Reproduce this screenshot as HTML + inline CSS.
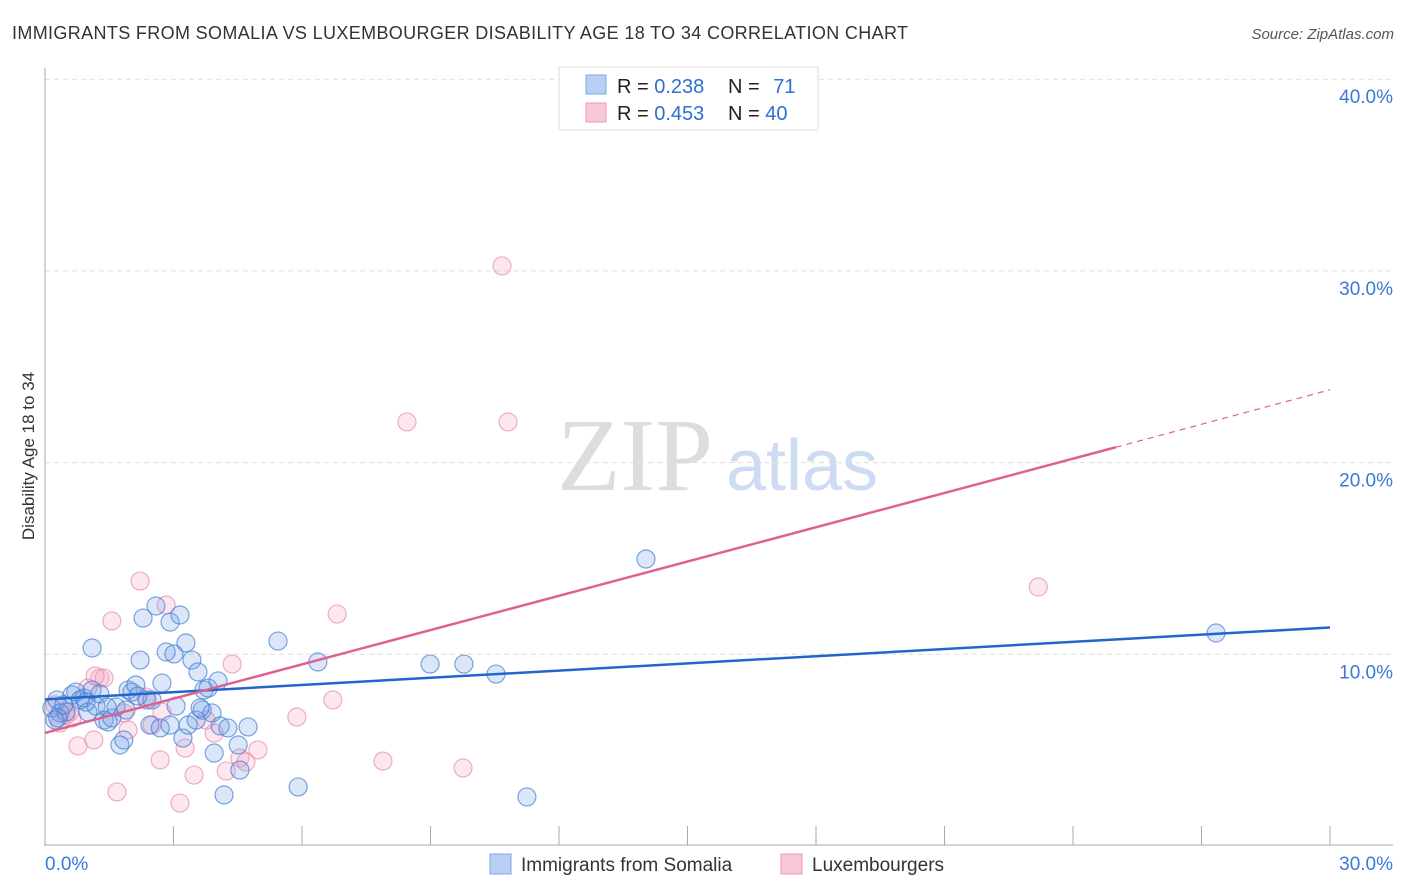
<!DOCTYPE html>
<html><head><meta charset="utf-8">
<style>
body{margin:0;background:#fff;font-family:"Liberation Sans",sans-serif;}
svg{display:block}
</style></head>
<body>
<svg id="chart" width="1406" height="892" xmlns="http://www.w3.org/2000/svg">
<text x="12" y="39" font-size="18" fill="#333" textLength="896">IMMIGRANTS FROM SOMALIA VS LUXEMBOURGER DISABILITY AGE 18 TO 34 CORRELATION CHART</text>
<text x="1394" y="39" font-size="15" fill="#555" font-style="italic" text-anchor="end">Source: ZipAtlas.com</text>
<text x="0" y="0" transform="translate(34,456) rotate(-90)" font-size="17" fill="#333" text-anchor="middle">Disability Age 18 to 34</text>
<g>
<text x="635" y="490" font-size="104" font-family="Liberation Serif,serif" fill="#ddd" text-anchor="middle">ZIP</text>
<text x="802" y="490" font-size="72" fill="#cddcf2" text-anchor="middle">atlas</text>
</g>
<g id="grid"></g>
<g id="axes"></g>
<g id="pts"></g>
<g id="lines"></g>
<g>
<rect x="559" y="67" width="259" height="63" fill="#fff" stroke="#ddd"/>
<rect x="586" y="75" width="20" height="19" fill="#b8d0f4" stroke="#7fa8e6"/>
<rect x="586" y="103" width="20" height="19" fill="#f9c8d6" stroke="#eb9ab4"/>
<text x="617" y="93" font-size="20" fill="#222">R = <tspan fill="#2e6fd3">0.238</tspan></text>
<text x="728" y="93" font-size="20" fill="#222">N = <tspan fill="#2e6fd3" dx="8">71</tspan></text>
<text x="617" y="120" font-size="20" fill="#222">R = <tspan fill="#2e6fd3">0.453</tspan></text>
<text x="728" y="120" font-size="20" fill="#222">N = <tspan fill="#2e6fd3">40</tspan></text>
</g>
<g>
<rect x="490" y="854" width="21" height="20" fill="#b8d0f4" stroke="#7fa8e6"/>
<text x="521" y="871" font-size="19" fill="#333">Immigrants from Somalia</text>
<rect x="781" y="854" width="21" height="20" fill="#f9c8d6" stroke="#eb9ab4"/>
<text x="812" y="871" font-size="19" fill="#333">Luxembourgers</text>
</g>
</svg>
<script>
const yTicks=[10,20,30,40];
const yTickLabels=["10.0%","20.0%","30.0%","40.0%"];
const xTickLabels=["0.0%","30.0%"];
const blueX=[0.16,0.28,0.35,0.49,0.63,0.72,0.82,0.91,1.00,1.10,1.19,1.28,1.38,1.47,1.56,1.66,1.75,1.84,1.94,2.03,2.12,2.22,2.29,2.38,2.45,2.50,2.59,2.69,2.73,2.83,2.92,3.01,3.06,3.15,3.22,3.29,3.34,3.43,3.53,3.57,3.67,3.71,3.81,3.90,3.95,4.04,4.09,4.18,4.27,4.51,4.55,4.74,5.44,5.91,6.37,8.99,9.78,10.53,11.25,14.03,27.34,0.23,0.44,0.96,1.45,2.17,2.92,3.62,1.89,1.10,0.30];
const blueY=[7.20,7.62,6.94,6.99,7.88,8.03,7.62,7.72,6.99,8.14,7.30,7.93,6.57,6.47,6.68,7.25,5.27,5.53,8.14,8.03,8.40,9.70,11.89,7.62,6.31,7.62,12.52,6.16,8.50,10.12,11.68,10.02,7.30,12.05,5.63,10.59,6.31,9.70,6.57,9.08,7.09,8.14,8.24,6.94,4.85,8.61,6.26,2.66,6.16,5.27,3.96,6.21,10.69,3.08,9.60,9.49,9.49,8.97,2.56,14.97,11.11,6.57,7.36,7.51,7.25,7.82,6.31,7.20,7.09,10.33,6.68];
const pinkX=[0.23,0.35,0.49,0.63,0.77,1.00,1.14,1.28,1.38,1.56,1.68,1.84,1.94,2.22,2.36,2.50,2.69,2.73,2.83,3.15,3.27,3.48,3.76,3.95,4.23,4.37,4.55,4.69,4.97,5.88,6.72,6.82,7.89,8.45,9.76,10.67,10.81,23.19,0.58,1.17];
const pinkY=[7.36,6.42,6.83,6.68,5.22,8.24,5.53,8.76,8.76,11.74,2.82,6.94,6.05,13.82,7.77,6.31,4.49,6.99,12.57,2.24,5.11,3.70,6.57,5.89,3.91,9.49,4.59,4.38,5.01,6.73,7.62,12.10,4.43,22.12,4.07,30.26,22.12,13.51,6.99,8.87];
const blueTrend=[7.65,11.4];
const pinkTrend=[5.9,20.8,23.8];
const pinkTrendX=[0,25,30];

const X=v=>45+v/30*1285;
const Y=v=>846-v*19.17;
const NS="http://www.w3.org/2000/svg";
function mk(tag,attrs,parent){const e=document.createElementNS(NS,tag);for(const k in attrs)e.setAttribute(k,attrs[k]);parent.appendChild(e);return e;}
const grid=document.getElementById('grid');
yTicks.forEach((t,i)=>{
  const l=mk('line',{x1:45,x2:1393,y1:Y(t),y2:Y(t),stroke:'#ddd','stroke-dasharray':'5,4'},grid);
  
  
  const tx=mk('text',{x:1393,y:Y(t)+24,'font-size':19,fill:'#3b78d8','text-anchor':'end'},grid);
  tx.textContent=yTickLabels[i];
  
  
});
const axes=document.getElementById('axes');
let a=mk('line',{x1:45,x2:45,y1:68,y2:846,stroke:'#aaa'},axes);


a=mk('line',{x1:45,x2:1393,y1:845,y2:845,stroke:'#aaa'},axes);


for(let i=1;i<=10;i++){
  const t=mk('line',{x1:X(i*3),x2:X(i*3),y1:826,y2:845,stroke:'#aaa'},axes);
  
  
}
[[0,'start',45],[30,'end',1393]].forEach((d,i)=>{
  const tx=mk('text',{x:d[2],y:870,'font-size':19,fill:'#3b78d8','text-anchor':d[1]},axes);
  tx.textContent=xTickLabels[i];
  
  
});
const pts=document.getElementById('pts');
pinkX.forEach((x,i)=>{
  const c=mk('circle',{cx:X(x),cy:Y(pinkY[i]),r:9,fill:'rgba(244,160,188,0.25)',stroke:'rgba(232,140,172,0.7)','stroke-width':1.2},pts);
  
  
});
blueX.forEach((x,i)=>{
  const c=mk('circle',{cx:X(x),cy:Y(blueY[i]),r:9,fill:'rgba(110,160,230,0.25)',stroke:'rgba(70,125,210,0.7)','stroke-width':1.2},pts);
  
  
});
const lines=document.getElementById('lines');
let ln=mk('line',{x1:X(0),y1:Y(blueTrend[0]),x2:X(30),y2:Y(blueTrend[1]),stroke:'#2266cc','stroke-width':2.5},lines);


ln=mk('line',{x1:X(pinkTrendX[0]),y1:Y(pinkTrend[0]),x2:X(pinkTrendX[1]),y2:Y(pinkTrend[1]),stroke:'#e0608f','stroke-width':2.5},lines);


ln=mk('line',{x1:X(pinkTrendX[1]),y1:Y(pinkTrend[1]),x2:X(pinkTrendX[2]),y2:Y(pinkTrend[2]),stroke:'#e0608f','stroke-width':1.2,'stroke-dasharray':'6,5'},lines);


</script>
</body></html>
